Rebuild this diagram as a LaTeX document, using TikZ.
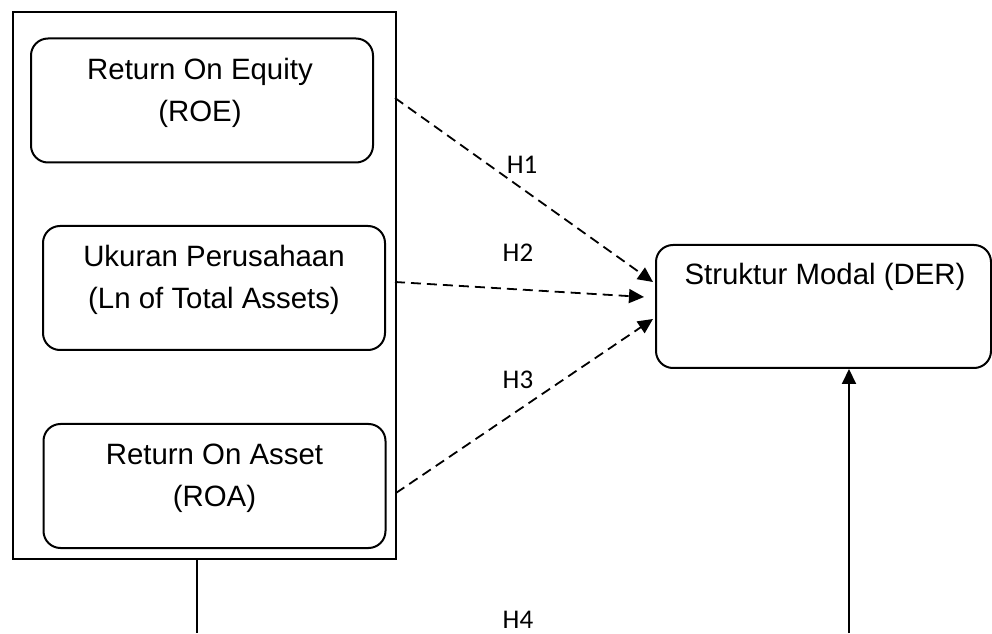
\documentclass[tikz,border=0pt]{standalone}
\usepackage{fontspec}
\setmainfont{Liberation Sans}
\newfontfamily\hfont{Carlito}
\usetikzlibrary{arrows.meta}

\begin{document}
\begin{tikzpicture}[
    x=0.5pt, y=0.5pt,
    outerbox/.style={rectangle, draw=black, line width=1pt,
        minimum width=191.5pt, minimum height=273.5pt, inner sep=0pt},
    varbox/.style={rectangle, rounded corners=8.5pt, draw=black, line width=1pt,
        minimum width=171pt, minimum height=62pt, inner sep=0pt},
    vartext/.style={align=center, font=\fontsize{14.7}{21}\selectfont},
    hyp/.style={font=\hfont\fontsize{13.5}{15}\selectfont},
    dasharrow/.style={line width=0.9pt, dash pattern=on 5pt off 3pt,
        -{Triangle[length=7.5pt,width=7pt]}},
    link/.style={line width=1pt}
]
    \useasboundingbox (0,0) rectangle (992,633);
    \node[outerbox] (outer) at (204.5,347.5) {};
    \node[varbox] (roe) at (202,532.5) {};
    \node[varbox] (size) at (214,345) {};
    \node[varbox] (roa) at (214.5,147) {};
    \node[varbox, minimum width=167.5pt, minimum height=61.5pt] (der) at (823.5,326.5) {};
    \node[vartext] (roetext) at (200,540) {Return On Equity\\(ROE)};
    \node[vartext] (sizetext) at (214,353) {Ukuran Perusahaan\\(Ln of Total Assets)};
    \node[vartext] (roatext) at (214.5,154.5) {Return On Asset\\(ROA)};
    \node[vartext] (dertext) at (825,356) {Struktur Modal (DER)};
    \node[hyp] (h1) at (522,468) {H1};
    \node[hyp] (h2) at (518,380) {H2};
    \node[hyp] (h3) at (518,253) {H3};
    \node[hyp] (h4) at (518,13) {H4};
    \coordinate (roeout) at (395,535);
    \coordinate (sizeout) at (395,351);
    \coordinate (roaout) at (396,140);
    \coordinate (leftfoot) at (197,0);
    \coordinate (rightfoot) at (849,0);
    \draw[dasharrow] (roeout) -- ([xshift=-1pt,yshift=12.25pt]der.west);
    \draw[dasharrow] (sizeout) -- ([xshift=-5.5pt,yshift=4.75pt]der.west);
    \draw[dasharrow] (roaout) -- ([xshift=-1pt,yshift=-6.25pt]der.west);
    \draw[link] (outer.south -| leftfoot) -- (leftfoot);
    \draw[link, -{Triangle[length=7.5pt,width=7pt]}] (rightfoot) -- (rightfoot |- der.south);
\end{tikzpicture}
\end{document}
